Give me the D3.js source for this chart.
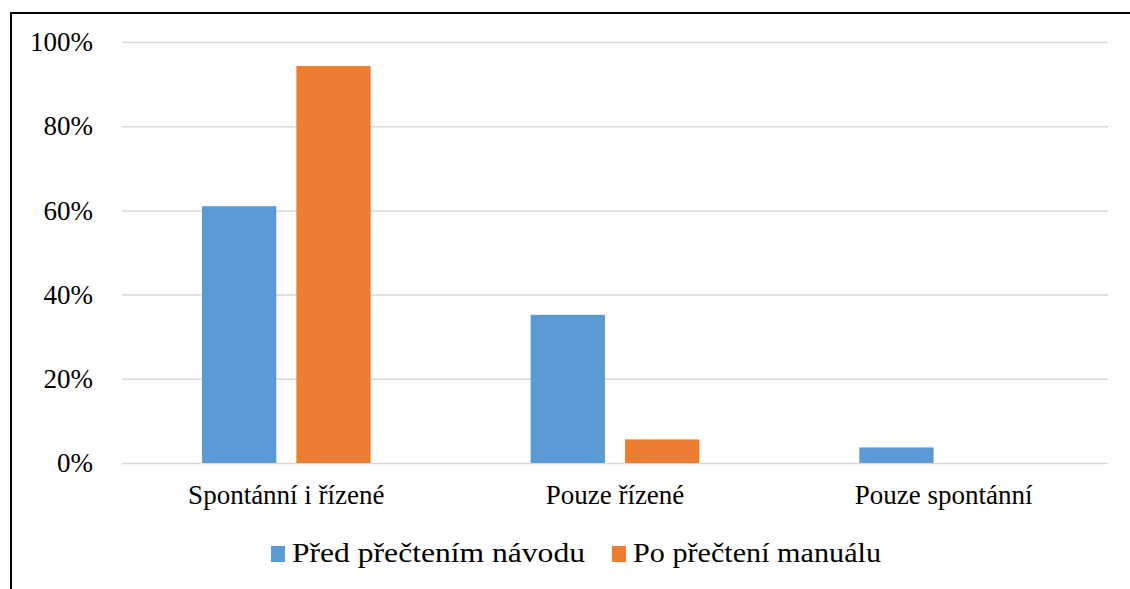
<!DOCTYPE html>
<html>
<head>
<meta charset="utf-8">
<script src="https://cdn.jsdelivr.net/npm/d3@7"></script>
<style>
  html, body { margin: 0; padding: 0; background: #fff; }
  svg text { font-family: 'Liberation Serif', 'Tinos', 'Times New Roman', 'DejaVu Serif', serif !important; }
</style>
</head>
<body>
<div id="chart"></div>
<script>
'use strict';

// data
var categories = ['Spontánní i řízené', 'Pouze řízené', 'Pouze spontánní'];
var seriesNames = ['Před přečtením návodu', 'Po přečtení manuálu'];
var beforeValues = [0.61, 0.352, 0.037];
var afterValues = [0.943, 0.056, 0];
var yTicks = [0, 0.2, 0.4, 0.6, 0.8, 1.0];

var colors = ['#5b9bd5', '#ed7d31'];

var W = 1130, H = 589;
var plot = {left: 122, right: 1108, top: 42, bottom: 463};

var svg = d3.select('#chart').append('svg')
  .attr('width', W)
  .attr('height', H);

// outer frame (cropped on right and bottom)
svg.append('rect')
  .attr('x', 11).attr('y', 13)
  .attr('width', W + 20).attr('height', H + 20)
  .attr('fill', 'none')
  .attr('stroke', '#000')
  .attr('stroke-width', 2);

var x0 = d3.scaleBand().domain(categories).range([plot.left, plot.right]);
var groupW = x0.bandwidth();
var x1 = d3.scaleBand().domain(seriesNames).range([80, groupW - 80]).paddingInner(0.213);
var y = d3.scaleLinear().domain([0, 1]).range([plot.bottom, plot.top]);

// gridlines + y labels
var yAxis = d3.axisLeft(y)
  .tickValues(yTicks)
  .tickFormat(d3.format('.0%'))
  .tickSize(-(plot.right - plot.left))
  .tickPadding(29);

var yg = svg.append('g')
  .attr('transform', 'translate(' + plot.left + ',0)')
  .call(yAxis);
yg.select('.domain').remove();
yg.selectAll('.tick line').attr('stroke', '#d9d9d9').attr('stroke-width', 1.5);
yg.selectAll('.tick text')
  .attr('fill', '#000')
  .style('font-size', '27px');

// bars
var rows = categories.map(function(c, i) {
  return {cat: c, vals: [{s: seriesNames[0], v: beforeValues[i]}, {s: seriesNames[1], v: afterValues[i]}]};
});

var groups = svg.selectAll('g.grp')
  .data(rows)
  .enter().append('g')
  .attr('class', 'grp')
  .attr('transform', function(d) { return 'translate(' + x0(d.cat) + ',0)'; });

groups.selectAll('rect')
  .data(function(d) { return d.vals.filter(function(e) { return e.v > 0; }); })
  .enter().append('rect')
  .attr('x', function(d) { return x1(d.s); })
  .attr('width', x1.bandwidth())
  .attr('y', function(d) { return y(d.v); })
  .attr('height', function(d) { return y(0) - y(d.v); })
  .attr('fill', function(d) { return colors[seriesNames.indexOf(d.s)]; });

// x labels
var xAxis = d3.axisBottom(x0).tickSize(0).tickPadding(22);
var xg = svg.append('g')
  .attr('transform', 'translate(0,' + plot.bottom + ')')
  .call(xAxis);
xg.select('.domain').remove();
xg.selectAll('.tick text')
  .attr('fill', '#000')
  .style('font-size', '27px');

// legend
var legendItems = [
  {name: seriesNames[0], box: 271, text: 292, len: 293},
  {name: seriesNames[1], box: 612, text: 633, len: 248}
];
var lg = svg.append('g').attr('class', 'legend');
lg.selectAll('rect')
  .data(legendItems)
  .enter().append('rect')
  .attr('x', function(d) { return d.box; })
  .attr('y', 546)
  .attr('width', 14)
  .attr('height', 16)
  .attr('fill', function(d, i) { return colors[i]; });
lg.selectAll('text')
  .data(legendItems)
  .enter().append('text')
  .attr('x', function(d) { return d.text; })
  .attr('y', 562)
  .attr('textLength', function(d) { return d.len; })
  .attr('lengthAdjust', 'spacingAndGlyphs')
  .style('font-size', '27px')
  .attr('fill', '#000')
  .text(function(d) { return d.name; });
</script>
</body>
</html>
